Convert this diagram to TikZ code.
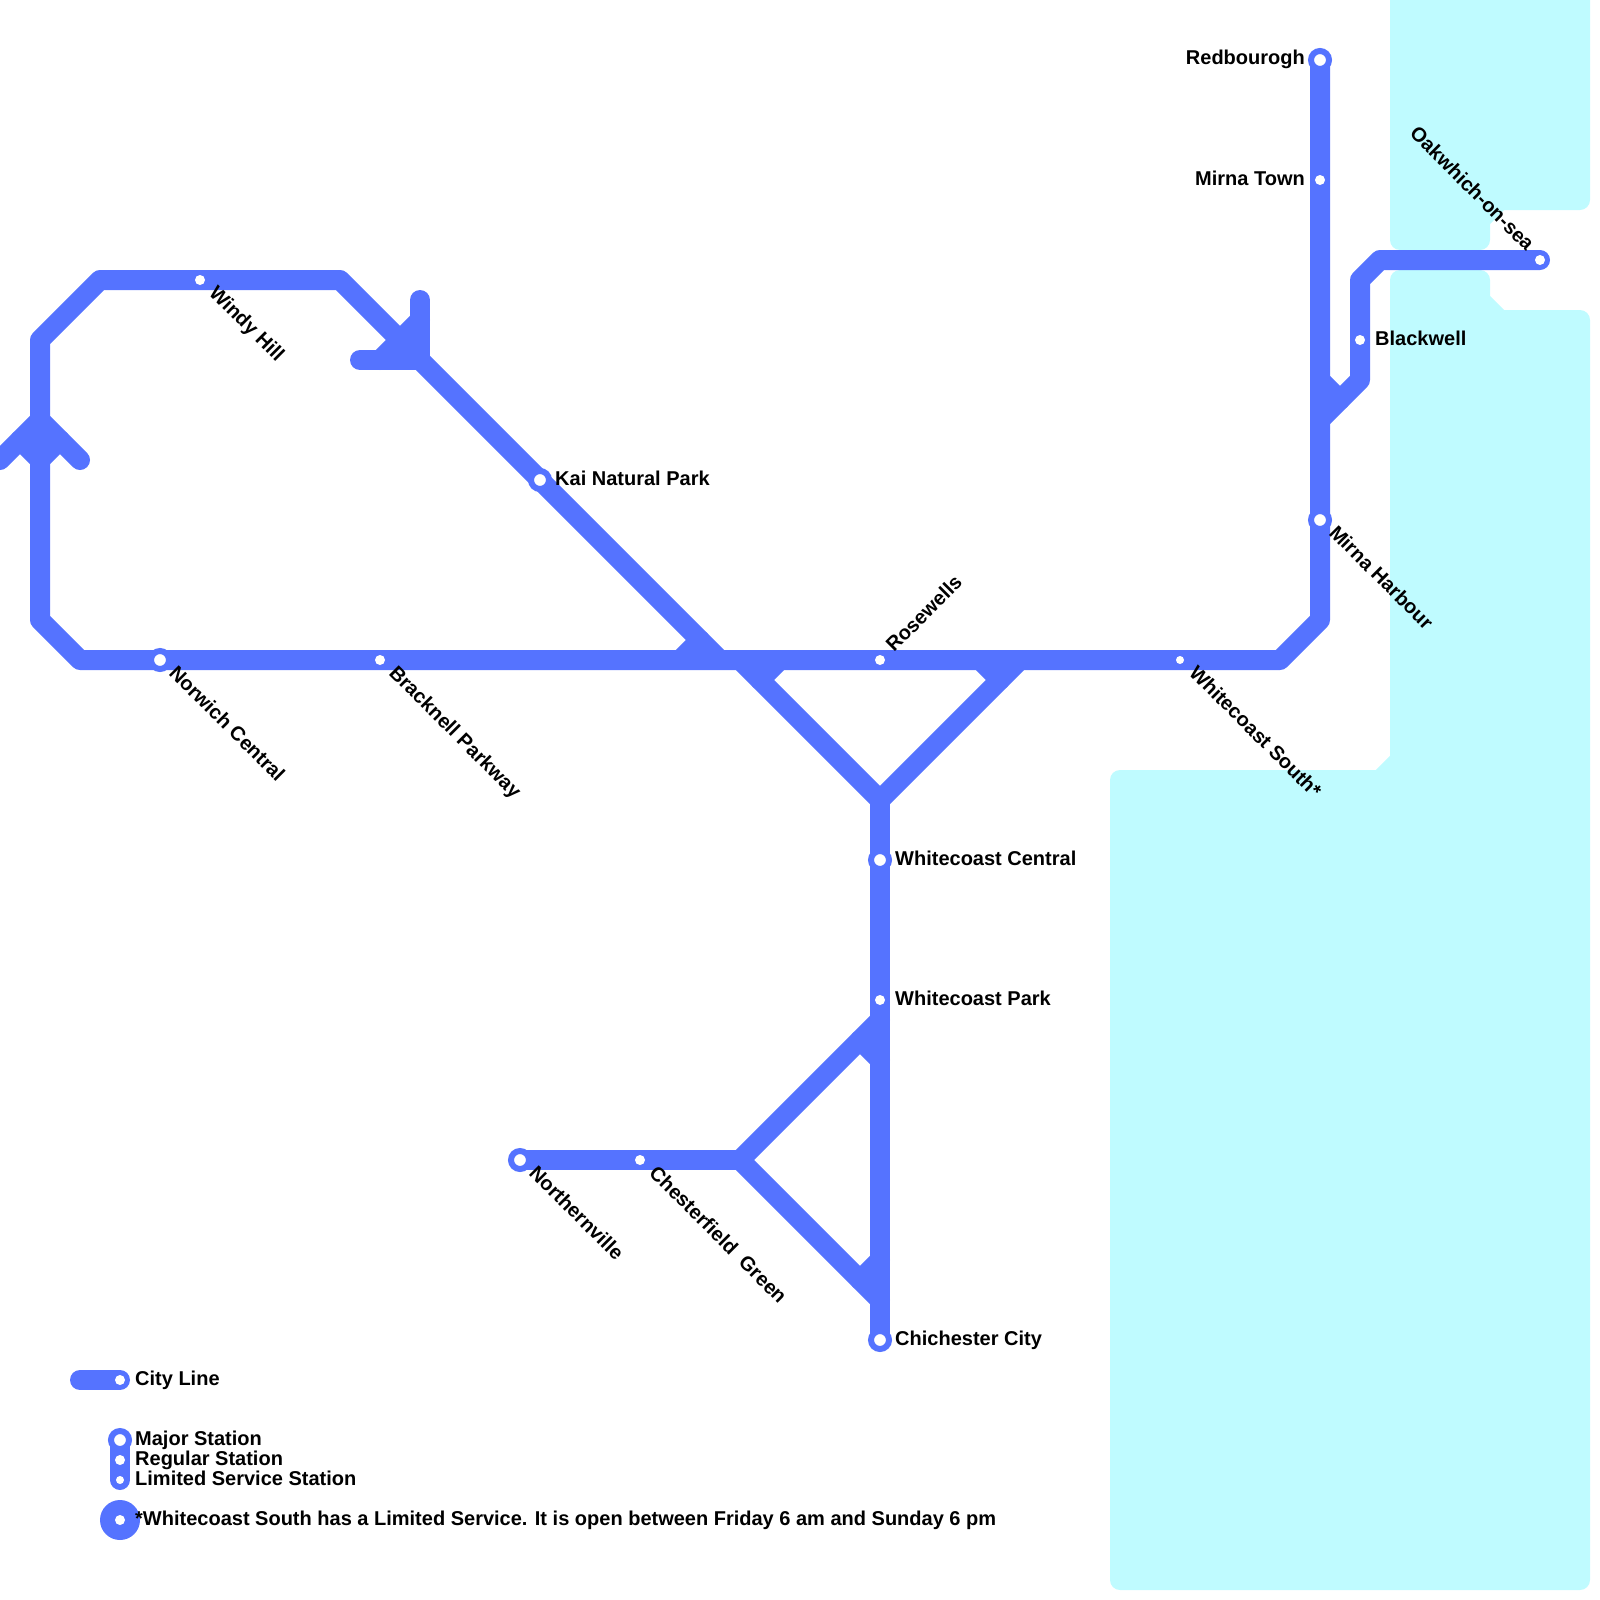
\documentclass[tikz,border=0pt]{standalone}
\usepackage{fontspec}
\setmainfont{Liberation Sans}
\usetikzlibrary{positioning}
\definecolor{cityblue}{HTML}{5573FF}
\definecolor{watercol}{HTML}{BFFBFF}
\tikzset{
  water/.style={line width=20pt,draw=watercol,fill=watercol,line join=round},
  cityline/.style={line width=20pt,draw=cityblue,line cap=round,line join=round},
  majorstn/.style={draw=cityblue,line width=6pt,circle,fill=white,inner sep=0pt,minimum size=18pt},
  regularstn/.style={circle,fill=white,inner sep=0pt,minimum size=10pt},
  limitedstn/.style={circle,fill=white,inner sep=0pt,minimum size=8pt},
  lbl/.style={inner sep=0pt,text=black,font=\fontsize{20}{24}\selectfont\bfseries},
  lblright/.style={lbl,anchor=base west},
  lblleft/.style={lbl,anchor=base east},
  lbldown/.style={lbl,anchor=base west,rotate=-45},
  lblup/.style={lbl,anchor=base west,rotate=45}
}
\begin{document}
\begin{tikzpicture}[x=1pt,y=-1pt]
  \clip[use as bounding box] (0,0) rectangle (1600,1600);
  % water
  \path[water] (1400,-20) -- (1580,-20) -- (1580,200) -- (1500,200) -- (1480,220) -- (1480,240) -- (1400,240) -- cycle;
  \path[water] (1400,280) -- (1480,280) -- (1480,300) -- (1500,320) -- (1580,320) -- (1580,1580) -- (1120,1580) -- (1120,780) -- (1380,780) -- (1400,760) -- cycle;
  % junctions and stations
  \coordinate (redbourogh) at (1320,60);
  \coordinate (mirnatown) at (1320,180);
  \coordinate (blackwell) at (1360,340);
  \coordinate (oakwhich) at (1540,260);
  \coordinate (mirnaharbour) at (1320,520);
  \coordinate (whitesouth) at (1180,660);
  \coordinate (rosewells) at (880,660);
  \coordinate (bracknell) at (380,660);
  \coordinate (norwich) at (160,660);
  \coordinate (windyhill) at (200,280);
  \coordinate (kai) at (540,480);
  \coordinate (whitecentral) at (880,860);
  \coordinate (whitepark) at (880,1000);
  \coordinate (chichester) at (880,1340);
  \coordinate (northernville) at (520,1160);
  \coordinate (chesterfield) at (640,1160);
  \coordinate (fork) at (880,800);
  \coordinate (split) at (740,1160);
  % city line
  \draw[cityline] (redbourogh) -- (1320,620) -- (1280,660) -- (80,660) -- (40,620) -- (40,340) -- (100,280) -- (340,280) -- (720,660);
  \draw[cityline] (0,460) -- (40,420) -- (80,460);
  \draw[cityline] (20,440) -- (40,460) -- (60,440);
  \draw[cityline] (420,300) -- (420,360) -- (360,360);
  \draw[cityline] (420,320) -- (380,360);
  \draw[cityline] (680,660) -- (700,640);
  \draw[cityline] (780,660) -- (760,680);
  \draw[cityline] (980,660) -- (1000,680);
  \draw[cityline] (740,660) -- (fork) -- (1020,660);
  \draw[cityline] (fork) -- (chichester);
  \draw[cityline] (880,1020) -- (split) -- (880,1300);
  \draw[cityline] (860,1040) -- (880,1060);
  \draw[cityline] (880,1260) -- (860,1280);
  \draw[cityline] (northernville) -- (split);
  \draw[cityline] (1320,420) -- (1360,380) -- (1360,280) -- (1380,260) -- (oakwhich);
  \draw[cityline] (1320,380) -- (1340,400);
  % stations
  \node[majorstn] (redbouroghstn) at (redbourogh) {};
  \node[regularstn] (mirnatownstn) at (mirnatown) {};
  \node[regularstn] (blackwellstn) at (blackwell) {};
  \node[regularstn] (oakwhichstn) at (oakwhich) {};
  \node[majorstn] (mirnaharbourstn) at (mirnaharbour) {};
  \node[limitedstn] (whitesouthstn) at (whitesouth) {};
  \node[regularstn] (rosewellsstn) at (rosewells) {};
  \node[regularstn] (bracknellstn) at (bracknell) {};
  \node[majorstn] (norwichstn) at (norwich) {};
  \node[regularstn] (windyhillstn) at (windyhill) {};
  \node[majorstn] (kaistn) at (kai) {};
  \node[majorstn] (whitecentralstn) at (whitecentral) {};
  \node[regularstn] (whiteparkstn) at (whitepark) {};
  \node[majorstn] (chichesterstn) at (chichester) {};
  \node[majorstn] (northernvillestn) at (northernville) {};
  \node[regularstn] (chesterfieldstn) at (chesterfield) {};
  % labels
  \node[lblleft] (redbouroghlbl) at (1305,65) {Redbourogh};
  \node[lblleft] (mirnatownlbl) at (1305,185) {Mirna Town};
  \node[lblright] (blackwelllbl) at (1375,345) {Blackwell};
  \node[lbl,anchor=base east,rotate=-45] (oakwhichlbl) at (1526,252) {Oakwhich-on-sea};
  \node[lbldown] (mirnaharbourlbl) at (1328,534) {Mirna Harbour};
  \node[lbldown] (whitesouthlbl) at (1188,674) {Whitecoast South*};
  \node[lblup] (rosewellslbl) at (894,653) {Rosewells};
  \node[lbldown] (bracknelllbl) at (388,674) {Bracknell Parkway};
  \node[lbldown] (norwichlbl) at (168,674) {Norwich Central};
  \node[lbldown] (windyhilllbl) at (208,294) {Windy Hill};
  \node[lblright] (kailbl) at (555,485) {Kai Natural Park};
  \node[lblright] (whitecentrallbl) at (895,865) {Whitecoast Central};
  \node[lblright] (whiteparklbl) at (895,1005) {Whitecoast Park};
  \node[lblright] (chichesterlbl) at (895,1345) {Chichester City};
  \node[lbldown] (northernvillelbl) at (528,1174) {Northernville};
  \node[lbldown] (chesterfieldlbl) at (648,1174) {Chesterfield\ \ Green};
  % legend
  \coordinate (keyline) at (120,1380);
  \coordinate (keymajor) at (120,1440);
  \coordinate (keyregular) at (120,1460);
  \coordinate (keylimited) at (120,1480);
  \draw[cityline] (80,1380) -- (keyline);
  \draw[cityline] (keymajor) -- (keylimited);
  \node[regularstn] (keylinestn) at (keyline) {};
  \node[majorstn] (keymajorstn) at (keymajor) {};
  \node[regularstn] (keyregularstn) at (keyregular) {};
  \node[limitedstn] (keylimitedstn) at (keylimited) {};
  \node[circle,fill=cityblue,inner sep=0pt,minimum size=40pt] (keybig) at (120,1520) {};
  \node[regularstn] (keybigstn) at (120,1520) {};
  \node[lblright] (keylinelbl) at (135,1385) {City Line};
  \node[lblright] (keymajorlbl) at (135,1445) {Major Station};
  \node[lblright] (keyregularlbl) at (135,1465) {Regular Station};
  \node[lblright] (keylimitedlbl) at (135,1485) {Limited Service Station};
  \node[lblright] (keynotelbl) at (135,1525) {*Whitecoast South has a Limited Service. It is open between Friday 6 am and Sunday 6 pm};
\end{tikzpicture}
\end{document}
